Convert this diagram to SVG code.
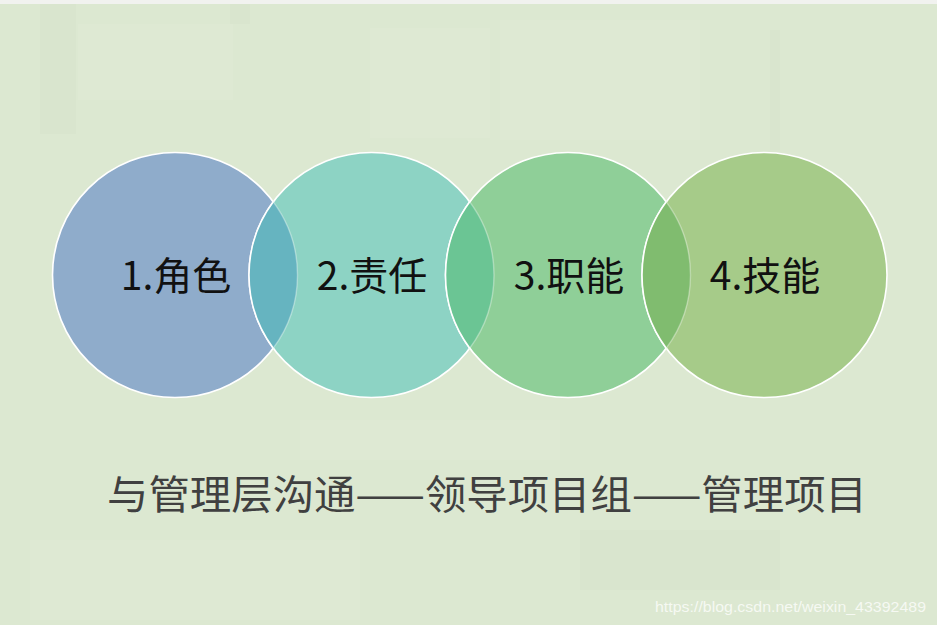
<svg xmlns="http://www.w3.org/2000/svg" width="937" height="625" viewBox="0 0 937 625">
<style>
.lbl{font-family:"Noto Sans CJK SC","Noto Sans",sans-serif;font-size:39px;fill:#111;text-anchor:middle}
.ring{stroke:#fff;stroke-width:1.6}
.sub{font-family:"Noto Sans CJK SC","Noto Sans",sans-serif;font-size:40px;fill:#404040}
.wm{font-family:"Liberation Sans",Arial,sans-serif;font-size:15px;fill:#fff;fill-opacity:0.75}
.tex{fill:#fff;fill-opacity:0.06}
.texd{fill:#b9c9ad;fill-opacity:0.07}
</style>
<rect width="937" height="625" fill="#DCE8D1"/>
<rect x="0" y="0" width="937" height="4" fill="#F1F2EF"/>
<g id="texture">
<rect class="tex" x="78" y="24" width="155" height="76"/>
<rect class="texd" x="40" y="4" width="36" height="130"/>
<rect class="tex" x="370" y="28" width="120" height="110"/>
<rect class="texd" x="230" y="4" width="20" height="20"/>
<rect class="tex" x="500" y="20" width="200" height="120"/>
<rect class="texd" x="770" y="30" width="10" height="120"/>
<rect class="tex" x="300" y="420" width="260" height="40"/>
<rect class="tex" x="30" y="540" width="330" height="80"/>
<rect class="texd" x="580" y="530" width="200" height="60"/>
</g>
<g id="node1"><circle cx="175" cy="275" r="122.5" fill="#8FACCB" class="ring"/></g>
<g id="node2"><circle cx="371.5" cy="275" r="122.5" fill="#8DD3C4" class="ring"/></g>
<g id="node3"><circle cx="568" cy="275" r="122.5" fill="#8FCF98" class="ring"/></g>
<g id="node4"><circle cx="764.5" cy="275" r="122.5" fill="#A6CB89" class="ring"/></g>
<g id="overlaps">
<path d="M273.25 201.83A122.5 122.5 0 0 1 273.25 348.17A122.5 122.5 0 0 1 273.25 201.83Z" fill="#66B4C0"/>
<path d="M273.25 201.83A122.5 122.5 0 0 1 273.25 348.17" fill="none" stroke="#fff" stroke-opacity="0.35" stroke-width="1.4"/>
<path d="M273.25 348.17A122.5 122.5 0 0 1 273.25 201.83" fill="none" stroke="#fff" stroke-width="1.6"/>
<path d="M469.75 201.83A122.5 122.5 0 0 1 469.75 348.17A122.5 122.5 0 0 1 469.75 201.83Z" fill="#6BC594"/>
<path d="M469.75 201.83A122.5 122.5 0 0 1 469.75 348.17" fill="none" stroke="#fff" stroke-opacity="0.35" stroke-width="1.4"/>
<path d="M469.75 348.17A122.5 122.5 0 0 1 469.75 201.83" fill="none" stroke="#fff" stroke-width="1.6"/>
<path d="M666.25 201.83A122.5 122.5 0 0 1 666.25 348.17A122.5 122.5 0 0 1 666.25 201.83Z" fill="#80BC6F"/>
<path d="M666.25 201.83A122.5 122.5 0 0 1 666.25 348.17" fill="none" stroke="#fff" stroke-opacity="0.35" stroke-width="1.4"/>
<path d="M666.25 348.17A122.5 122.5 0 0 1 666.25 201.83" fill="none" stroke="#fff" stroke-width="1.6"/>
</g>
<g id="labels">
<text class="lbl" x="176" y="290">1.角色</text>
<text class="lbl" x="372" y="290">2.责任</text>
<text class="lbl" x="569" y="290">3.职能</text>
<text class="lbl" x="765" y="290">4.技能</text>
</g>
<g id="connectors"></g>
<text class="sub" x="107" y="509" textLength="760" lengthAdjust="spacingAndGlyphs">与管理层沟通——领导项目组——管理项目</text>
<text class="wm" x="655" y="612" textLength="271" lengthAdjust="spacingAndGlyphs">https://blog.csdn.net/weixin_43392489</text>
</svg>
